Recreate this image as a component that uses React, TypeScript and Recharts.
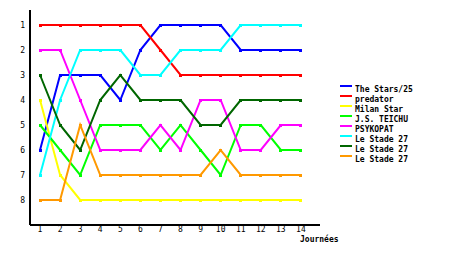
import React from 'react';
import { LineChart, Line, XAxis, YAxis } from 'recharts';

const journees = [1, 2, 3, 4, 5, 6, 7, 8, 9, 10, 11, 12, 13, 14];
const rankTicks = [1, 2, 3, 4, 5, 6, 7, 8];

const theStars = [6, 3, 3, 3, 4, 2, 1, 1, 1, 1, 2, 2, 2, 2];
const predator = [1, 1, 1, 1, 1, 1, 2, 3, 3, 3, 3, 3, 3, 3];
const milanStar = [4, 7, 8, 8, 8, 8, 8, 8, 8, 8, 8, 8, 8, 8];
const jsTeichu = [5, 6, 7, 5, 5, 5, 6, 5, 6, 7, 5, 5, 6, 6];
const psykopat = [2, 2, 4, 6, 6, 6, 5, 6, 4, 4, 6, 6, 5, 5];
const stade27a = [7, 4, 2, 2, 2, 3, 3, 2, 2, 2, 1, 1, 1, 1];
const stade27b = [3, 5, 6, 4, 3, 4, 4, 4, 5, 5, 4, 4, 4, 4];
const stade27c = [8, 8, 5, 7, 7, 7, 7, 7, 7, 6, 7, 7, 7, 7];

const seriesNames = ['The Stars/25', 'predator', 'Milan Star', 'J.S. TEICHU', 'PSYKOPAT', 'Le Stade 27', 'Le Stade 27', 'Le Stade 27'];
const seriesValues = [theStars, predator, milanStar, jsTeichu, psykopat, stade27a, stade27b, stade27c];
const seriesColors = ['#0000ff', '#ff0000', '#ffff00', '#00ff00', '#ff00ff', '#00ffff', '#006600', '#ff9900'];

const data = journees.map((j, i) => {
  const row: Record<string, number> = { j };
  seriesValues.forEach((vals, k) => {
    row['s' + k] = vals[i];
  });
  return row;
});

const FONT = 'DejaVu Sans Mono, monospace';

const SquareDot = (props: any) => {
  const { cx, cy, stroke } = props;
  if (cx == null || cy == null) return null;
  return <rect x={cx - 1.5} y={cy - 1.5} width={3} height={3} fill={stroke} shapeRendering="crispEdges" />;
};

const LegendBox = () => (
  <svg width={110} height={90} style={{ position: 'absolute', left: 340, top: 80, display: 'block' }}>
    {seriesNames.map((n, i) => (
      <g key={i}>
        <line x1={0} x2={12} y1={5.5 + i * 10} y2={5.5 + i * 10} stroke={seriesColors[i]} strokeWidth={2} shapeRendering="crispEdges" />
        <text x={15} y={11.5 + i * 10} fontSize={8} fontWeight="bold" fontFamily={FONT} fill="#000">{n}</text>
      </g>
    ))}
  </svg>
);

export default function App() {
  return (
    <div style={{ position: 'absolute', left: 0, top: 0, width: 460, height: 255, background: '#fff' }}>
      <LineChart width={460} height={255} data={data} margin={{ top: 10, right: 140, bottom: 0, left: 0 }}>
        <XAxis
          dataKey="j"
          type="number"
          domain={[0.5, 14.95]}
          ticks={journees}
          allowDataOverflow
          height={30}
          tickLine={false}
          tickSize={0}
          tickMargin={1}
          axisLine={{ stroke: '#000', strokeWidth: 2 }}
          tick={{ fontSize: 8, fontFamily: FONT, fill: '#000' }}
          interval={0}
          label={{
            content: () => (
              <text x={300} y={242} fontSize={8} fontWeight="bold" fontFamily={FONT} fill="#000">Journées</text>
            ),
          }}
        />
        <YAxis
          type="number"
          reversed
          domain={[0.4, 9]}
          ticks={rankTicks}
          allowDataOverflow
          width={30}
          tickLine={false}
          tickSize={0}
          tickMargin={5}
          axisLine={{ stroke: '#000', strokeWidth: 2 }}
          tick={{ fontSize: 8, fontFamily: FONT, fill: '#000' }}
          interval={0}
        />
        {seriesNames.map((n, k) => (
          <Line
            key={k}
            dataKey={'s' + k}
            name={n}
            type="linear"
            stroke={seriesColors[k]}
            strokeWidth={2}
            dot={<SquareDot />}
            activeDot={false}
            isAnimationActive={false}
          />
        ))}
      </LineChart>
      <LegendBox />
    </div>
  );
}
